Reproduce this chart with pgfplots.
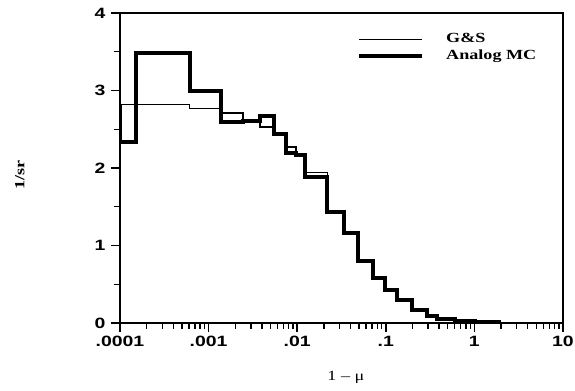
\documentclass[border=0pt]{standalone}
\usepackage{fontspec}
\setmainfont{Liberation Serif}[FakeStretch=1.3]
\newfontfamily\tickfont{Liberation Sans Bold}[FakeStretch=1.3]
\usepackage{pgfplots}
\pgfplotsset{compat=1.18}
\begin{document}
\begin{tikzpicture}
\useasboundingbox (-120bp,-68bp) rectangle (455bp,323bp);
\begin{axis}[
  at={(0,0)}, anchor=south west,
  scale only axis, width=443bp, height=310bp,
  xmode=log, log basis x=10,
  xmin=1e-4, xmax=10, ymin=0, ymax=4,
  xtick={1e-4,1e-3,1e-2,1e-1,1,10},
  xticklabels={.0001,.001,.01,.1,1,10},
  minor xtick={2e-4,3e-4,4e-4,5e-4,6e-4,7e-4,8e-4,9e-4,
    2e-3,3e-3,4e-3,5e-3,6e-3,7e-3,8e-3,9e-3,
    2e-2,3e-2,4e-2,5e-2,6e-2,7e-2,8e-2,9e-2,
    0.2,0.3,0.4,0.5,0.6,0.7,0.8,0.9,
    2,3,4,5,6,7,8,9},
  ytick={0,1,2,3,4},
  minor ytick={0.5,1.5,2.5,3.5},
  axis x line*=bottom, axis y line*=left,
  separate axis lines,
  x axis line style={-, line width=1.4bp},
  y axis line style={-, line width=1.4bp},
  xtick align=outside, ytick align=outside,
  major tick length=9bp, minor tick length=6bp,
  major tick style={black, line width=1.6bp},
  minor tick style={black, line width=1.4bp},
  /pgf/number format/assume math mode=true,
  ticklabel style={font=\tickfont\fontsize{15}{15}\selectfont},
  xticklabel style={yshift=-1bp},
  yticklabel style={xshift=-2bp},
  xlabel={1 – μ}, ylabel={\bfseries 1/sr},
  every axis x label/.style={at={(axis description cs:0.51,-0.177)}, anchor=center, font=\fontsize{14}{14}\selectfont},
  every axis y label/.style={at={(axis description cs:-0.226,0.477)}, anchor=center, rotate=90, font=\fontsize{14}{14}\selectfont},
  legend image code/.code={\draw[#1] (0bp,0bp) -- (63bp,0bp);},
  legend cell align=left,
  legend style={at={(rel axis cs:0.535,0.937)}, anchor=north west, draw=none, fill=none,
    font=\bfseries\fontsize{14}{14}\selectfont, row sep=4bp, column sep=22bp, inner sep=0pt,
    nodes={inner sep=0pt, text height=10bp, text depth=3bp}},
  after end axis/.code={
    \draw[line width=1.4bp] (rel axis cs:0,1) -- (rel axis cs:1,1) -- (rel axis cs:1,0);
  },
]
\addplot[black, line width=1.3bp, const plot] coordinates {
(1e-4,2.82) (6.09e-4,2.77) (1.370e-3,2.71) (2.436e-3,2.61) (3.805e-3,2.53)
(5.478e-3,2.44) (7.454e-3,2.27) (9.73e-3,2.17) (0.01231,1.94) (0.02185,1.45)
(0.03407,1.16) (0.0489,0.80) (0.0718,0.58) (0.098,0.43) (0.1337,0.30)
(0.1977,0.17) (0.2917,0.09) (0.378,0.05) (0.604,0.03) (1.016,0.015) (2,0.015)
};
\addlegendentry{G\&S}
\addplot[black, line width=4bp, const plot] coordinates {
(1e-4,2.82) (1e-4,2.33) (1.523e-4,3.48) (6.09e-4,3.00) (1.370e-3,2.60)
(2.436e-3,2.61) (3.805e-3,2.67) (5.478e-3,2.44) (7.454e-3,2.19) (9.73e-3,2.17)
(0.01231,1.88) (0.02185,1.43) (0.03407,1.16) (0.0489,0.80) (0.0718,0.58)
(0.098,0.43) (0.1337,0.30) (0.1977,0.17) (0.2917,0.09) (0.378,0.05)
(0.604,0.03) (1.016,0.015) (2,0.015)
};
\addlegendentry{Analog MC}
\end{axis}
\end{tikzpicture}
\end{document}
